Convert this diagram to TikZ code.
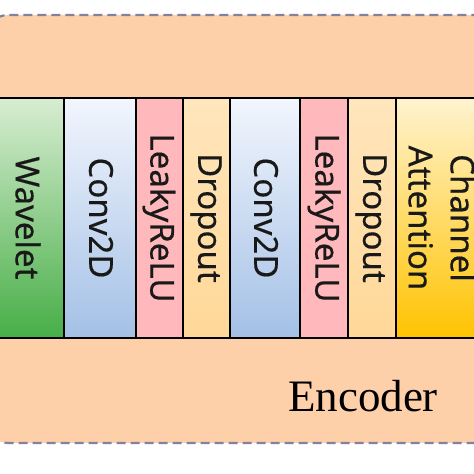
\documentclass[tikz,border=0pt]{standalone}
\usepackage{fontspec}
\setmainfont{Liberation Serif}
\newfontfamily\blockfont[FakeBold=0.4]{Noto Sans}
\definecolor{bgpeach}{HTML}{FDD0AA}
\definecolor{dashcol}{HTML}{82829E}
\definecolor{wavtop}{HTML}{D8EDD2}
\definecolor{wavbot}{HTML}{47AE47}
\definecolor{convtop}{HTML}{F2F6FD}
\definecolor{convbot}{HTML}{A4C0E6}
\definecolor{leaky}{HTML}{FFB8BB}
\definecolor{droptop}{HTML}{FFE6BC}
\definecolor{dropbot}{HTML}{FFD898}
\definecolor{atttop}{HTML}{FFF3D0}
\definecolor{attbot}{HTML}{FFC300}
\tikzset{
  x=1pt,y=1pt,
  blk/.style={draw=black, line width=1.8pt},
  lbl/.style={font=\blockfont\fontsize{33}{42}\selectfont, rotate=-90, align=center, text=black!90, inner sep=0pt},
}
\begin{document}
\begin{tikzpicture}
\useasboundingbox (0,0) rectangle (474,474);
\clip (0,0) rectangle (474,474);
\fill[white] (0,0) rectangle (474,474);
\draw[fill=bgpeach, draw=dashcol, line width=2.2pt, dash pattern=on 9pt off 5pt, rounded corners=22pt] (-14,31) rectangle (500,459);
% blocks (y from 136 to 376)
\draw[blk, top color=wavtop, bottom color=wavbot] (-10,136) rectangle (64,376);
\draw[blk, top color=convtop, bottom color=convbot] (64,136) rectangle (136,376);
\draw[blk, fill=leaky] (136,136) rectangle (183,376);
\draw[blk, top color=droptop, bottom color=dropbot] (183,136) rectangle (230,376);
\draw[blk, top color=convtop, bottom color=convbot] (230,136) rectangle (300,376);
\draw[blk, fill=leaky] (300,136) rectangle (348,376);
\draw[blk, top color=droptop, bottom color=dropbot] (348,136) rectangle (396,376);
\draw[blk, top color=atttop, bottom color=attbot] (396,136) rectangle (490,376);
\node[lbl] (wav) at (28,256) {Wavelet};
\node[lbl] (conv1) at (101,256) {Conv2D};
\node[lbl] (leaky1) at (159,256) {LeakyReLU};
\node[lbl] (drop1) at (206,256) {Dropout};
\node[lbl] (conv2) at (266,256) {Conv2D};
\node[lbl] (leaky2) at (324,256) {LeakyReLU};
\node[lbl] (drop2) at (371,256) {Dropout};
\node[lbl] (att) at (442,256) {Channel\\Attention};
\node[font=\fontsize{45}{50}\selectfont, anchor=base, inner sep=0pt] (enc) at (363,62) {Encoder};
\end{tikzpicture}
\end{document}
